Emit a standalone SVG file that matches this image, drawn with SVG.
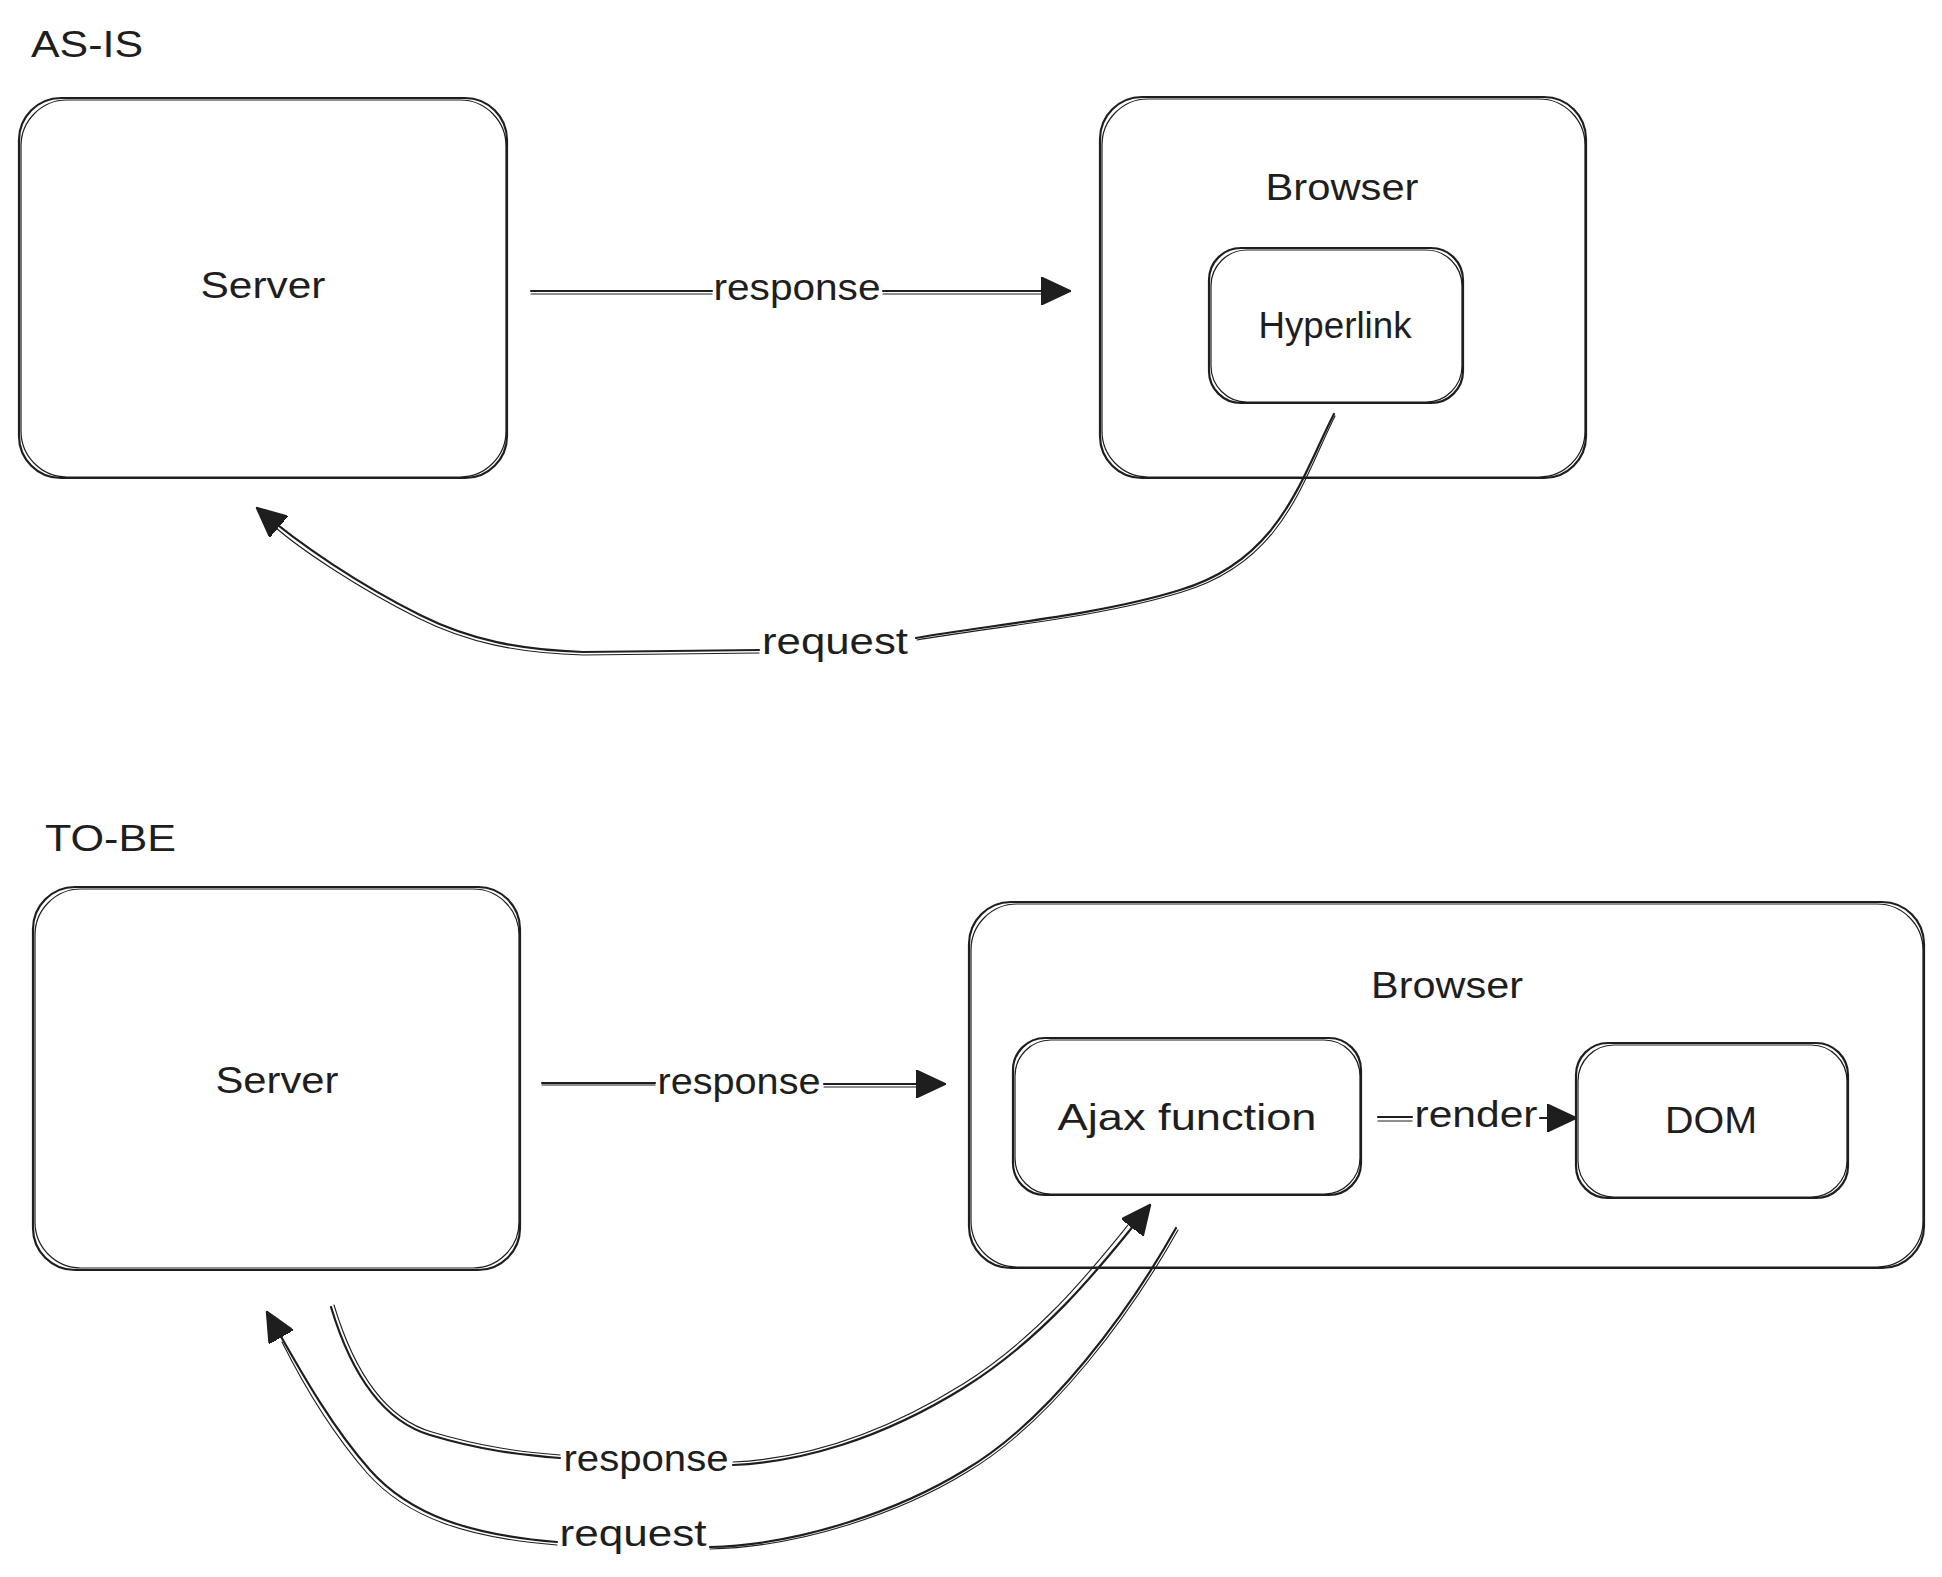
<svg xmlns="http://www.w3.org/2000/svg" width="1942" height="1577" viewBox="0 0 1942 1577">
<defs>
<style>
.box{fill:none;stroke:#1e1e1e;stroke-width:2.2}
.box2{fill:none;stroke:#1e1e1e;stroke-width:1.2}
.line{fill:none;stroke:#1e1e1e;stroke-width:2.2;stroke-linecap:round}
.line2{fill:none;stroke:#1e1e1e;stroke-width:1.1;stroke-linecap:round}
.t{font-family:"Liberation Sans","Noto Sans",sans-serif;font-size:36px;fill:#1e1e1e}
.c{text-anchor:middle}
</style>
<marker id="ah" viewBox="0 0 30 28" refX="29" refY="14" markerWidth="30" markerHeight="28" markerUnits="userSpaceOnUse" orient="auto">
<path d="M0,0 L30,14 L0,28 Z" fill="#1e1e1e" stroke="#1e1e1e" stroke-width="1.5" stroke-linejoin="round"/>
</marker>
</defs>
<rect width="1942" height="1577" fill="#ffffff"/>

<text class="t" x="31" y="57" textLength="112" lengthAdjust="spacingAndGlyphs">AS-IS</text>
<text class="t" x="45" y="851" textLength="131" lengthAdjust="spacingAndGlyphs">TO-BE</text>

<g id="server-asis">
<rect class="box" x="19" y="98" width="488" height="380" rx="42"/>
<rect class="box2" x="21" y="100" width="485" height="377" rx="46"/>
<text class="t c" x="263" y="298" textLength="125" lengthAdjust="spacingAndGlyphs">Server</text>
</g>

<g id="browser-asis">
<rect class="box" x="1100" y="97" width="486" height="381" rx="42"/>
<rect class="box2" x="1102" y="99" width="483" height="378" rx="46"/>
<text class="t c" x="1342" y="200" textLength="153" lengthAdjust="spacingAndGlyphs">Browser</text>
</g>

<g id="hyperlink">
<rect class="box" x="1209" y="248" width="254" height="155" rx="32"/>
<rect class="box2" x="1211" y="250" width="251" height="152" rx="36"/>
<text class="t c" x="1335" y="338" textLength="153" lengthAdjust="spacingAndGlyphs">Hyperlink</text>
</g>

<g id="server-tobe">
<rect class="box" x="33" y="887" width="487" height="383" rx="42"/>
<rect class="box2" x="35" y="889" width="484" height="379" rx="46"/>
<text class="t c" x="277" y="1093" textLength="123" lengthAdjust="spacingAndGlyphs">Server</text>
</g>

<g id="browser-tobe">
<rect class="box" x="969" y="902" width="955" height="366" rx="42"/>
<rect class="box2" x="971" y="904" width="952" height="363" rx="46"/>
<text class="t c" x="1447" y="998" textLength="152" lengthAdjust="spacingAndGlyphs">Browser</text>
</g>

<g id="ajax-function">
<rect class="box" x="1013" y="1038" width="348" height="157" rx="32"/>
<rect class="box2" x="1015" y="1040" width="345" height="154" rx="36"/>
<text class="t c" x="1187" y="1130" textLength="259" lengthAdjust="spacingAndGlyphs">Ajax function</text>
</g>

<g id="dom">
<rect class="box" x="1576" y="1043" width="272" height="155" rx="32"/>
<rect class="box2" x="1578" y="1045" width="269" height="152" rx="36"/>
<text class="t c" x="1711" y="1133" textLength="92" lengthAdjust="spacingAndGlyphs">DOM</text>
</g>

<g id="connectors">
<!-- AS-IS response -->
<path class="line" d="M531,291 L712,291"/>
<path class="line2" d="M531,294 L712,294"/>
<path class="line" d="M883,291 L1070,291" marker-end="url(#ah)"/>
<path class="line2" d="M883,294 L1045,294"/>
<text class="t c" x="797" y="300" textLength="167" lengthAdjust="spacingAndGlyphs">response</text>

<!-- AS-IS request -->
<path class="line" d="M1334,414 C1300,480 1280,560 1180,590 C1100,615 990,625 916,638"/>
<path class="line2" d="M1335,416 C1302,482 1283,562 1182,592 C1102,617 992,627 917,640"/>
<path class="line" d="M759,650 L583,652 C520,650 470,640 420,615 C360,585 300,545 257,508" marker-end="url(#ah)"/>
<path class="line2" d="M759,653 L583,655 C518,653 468,643 418,618 C358,588 300,549 275,527"/>
<text class="t c" x="835" y="654" textLength="146" lengthAdjust="spacingAndGlyphs">request</text>

<!-- TO-BE response (top) -->
<path class="line" d="M542,1083 L655,1083"/>
<path class="line2" d="M542,1085 L655,1085"/>
<path class="line" d="M824,1084 L945,1084" marker-end="url(#ah)"/>
<path class="line2" d="M824,1087 L920,1087"/>
<text class="t c" x="739" y="1094" textLength="163" lengthAdjust="spacingAndGlyphs">response</text>

<!-- render -->
<path class="line" d="M1378,1117 L1412,1117"/>
<path class="line2" d="M1378,1121 L1412,1121"/>
<path class="line" d="M1540,1118 L1576,1118" marker-end="url(#ah)"/>
<text class="t c" x="1476" y="1127" textLength="123" lengthAdjust="spacingAndGlyphs">render</text>

<!-- TO-BE response (bottom) -->
<path class="line" d="M331,1307 C350,1370 380,1420 430,1435 C480,1450 520,1455 560,1458"/>
<path class="line2" d="M334,1305 C353,1368 383,1418 432,1432 C482,1447 522,1452 560,1455"/>
<path class="line" d="M733,1465 C800,1462 880,1440 965,1387 C1040,1340 1095,1275 1150,1205" marker-end="url(#ah)"/>
<path class="line2" d="M733,1462 C800,1459 878,1437 963,1384 C1038,1337 1090,1272 1128,1225"/>
<text class="t c" x="646" y="1471" textLength="165" lengthAdjust="spacingAndGlyphs">response</text>

<!-- TO-BE request (bottom) -->
<path class="line" d="M1176,1228 C1130,1310 1050,1420 965,1470 C900,1510 800,1545 710,1547"/>
<path class="line2" d="M1178,1230 C1132,1312 1052,1422 967,1472 C902,1512 802,1547 710,1549"/>
<path class="line" d="M557,1542 C470,1535 410,1515 370,1470 C330,1425 300,1370 267,1312" marker-end="url(#ah)"/>
<path class="line2" d="M557,1545 C468,1538 407,1518 367,1473 C328,1428 300,1378 282,1342"/>
<text class="t c" x="633" y="1546" textLength="147" lengthAdjust="spacingAndGlyphs">request</text>
</g>
</svg>
